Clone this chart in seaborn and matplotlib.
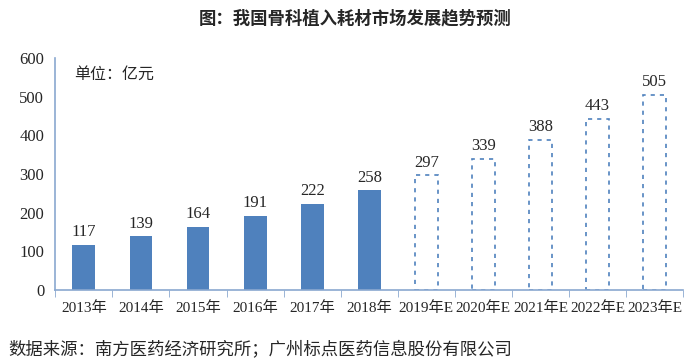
import pandas as pd
import matplotlib.pyplot as plt
import seaborn as sns

# data
years = ['2013年', '2014年', '2015年', '2016年', '2017年', '2018年',
         '2019年E', '2020年E', '2021年E', '2022年E', '2023年E']
values = [117, 139, 164, 191, 222, 258, 297, 339, 388, 443, 505]
n_actual = 6

df = pd.DataFrame({'year': years, 'value': values})

sns.set_style('white')
plt.rcParams['font.family'] = ['Liberation Serif', 'Noto Sans CJK SC']

blue = '#4f81bd'
spine_c = '#8aa8d0'

fig = plt.figure(figsize=(7, 3.61), dpi=100)
ax = fig.add_axes([0.079, 0.197, 0.897, 0.642])

sns.barplot(df, x='year', y='value', color=blue, width=0.4, saturation=1, ax=ax)

for i, p in enumerate(ax.patches):
    if i >= n_actual:
        p.set_facecolor('white')
        p.set_edgecolor(blue)
        p.set_linestyle((0, (2.5, 3)))
        p.set_linewidth(1.2)
    else:
        p.set_edgecolor('none')
    ax.text(p.get_x() + p.get_width() / 2, p.get_height() + 12, str(values[i]),
            ha='center', va='bottom', fontsize=12)

ax.set_ylim(0, 600)
ax.set_xlim(-0.5, len(years) - 0.5)
ax.set_yticks(range(0, 601, 100))
ax.set_xlabel('')
ax.set_ylabel('')
ax.set_xticks([i - 0.5 for i in range(len(years) + 1)], minor=True)
ax.tick_params(axis='x', which='major', length=0, labelsize=11, pad=8)
ax.tick_params(axis='x', which='minor', length=5, color=spine_c, direction='out')
ax.tick_params(axis='y', length=4, color=spine_c, direction='out', labelsize=12, pad=4)
ax.xaxis.set_tick_params(which='minor', bottom=True)

for s in ['top', 'right']:
    ax.spines[s].set_visible(False)
for s in ['left', 'bottom']:
    ax.spines[s].set_color(spine_c)
    ax.spines[s].set_linewidth(1.2)

ax.text(0.03, 0.93, '单位：亿元', transform=ax.transAxes, fontsize=11.5,
        family=['Noto Sans CJK SC'], va='center')

fig.text(0.507, 0.948, '图：我国骨科植入耗材市场发展趋势预测', ha='center', va='center',
         fontsize=12.5, fontweight='bold', family=['Noto Sans CJK SC'])
fig.text(0.012, 0.03, '数据来源：南方医药经济研究所；广州标点医药信息股份有限公司',
         ha='left', va='center', fontsize=12.5, family=['Noto Sans CJK SC'])

fig.savefig('out.png', dpi=100)
